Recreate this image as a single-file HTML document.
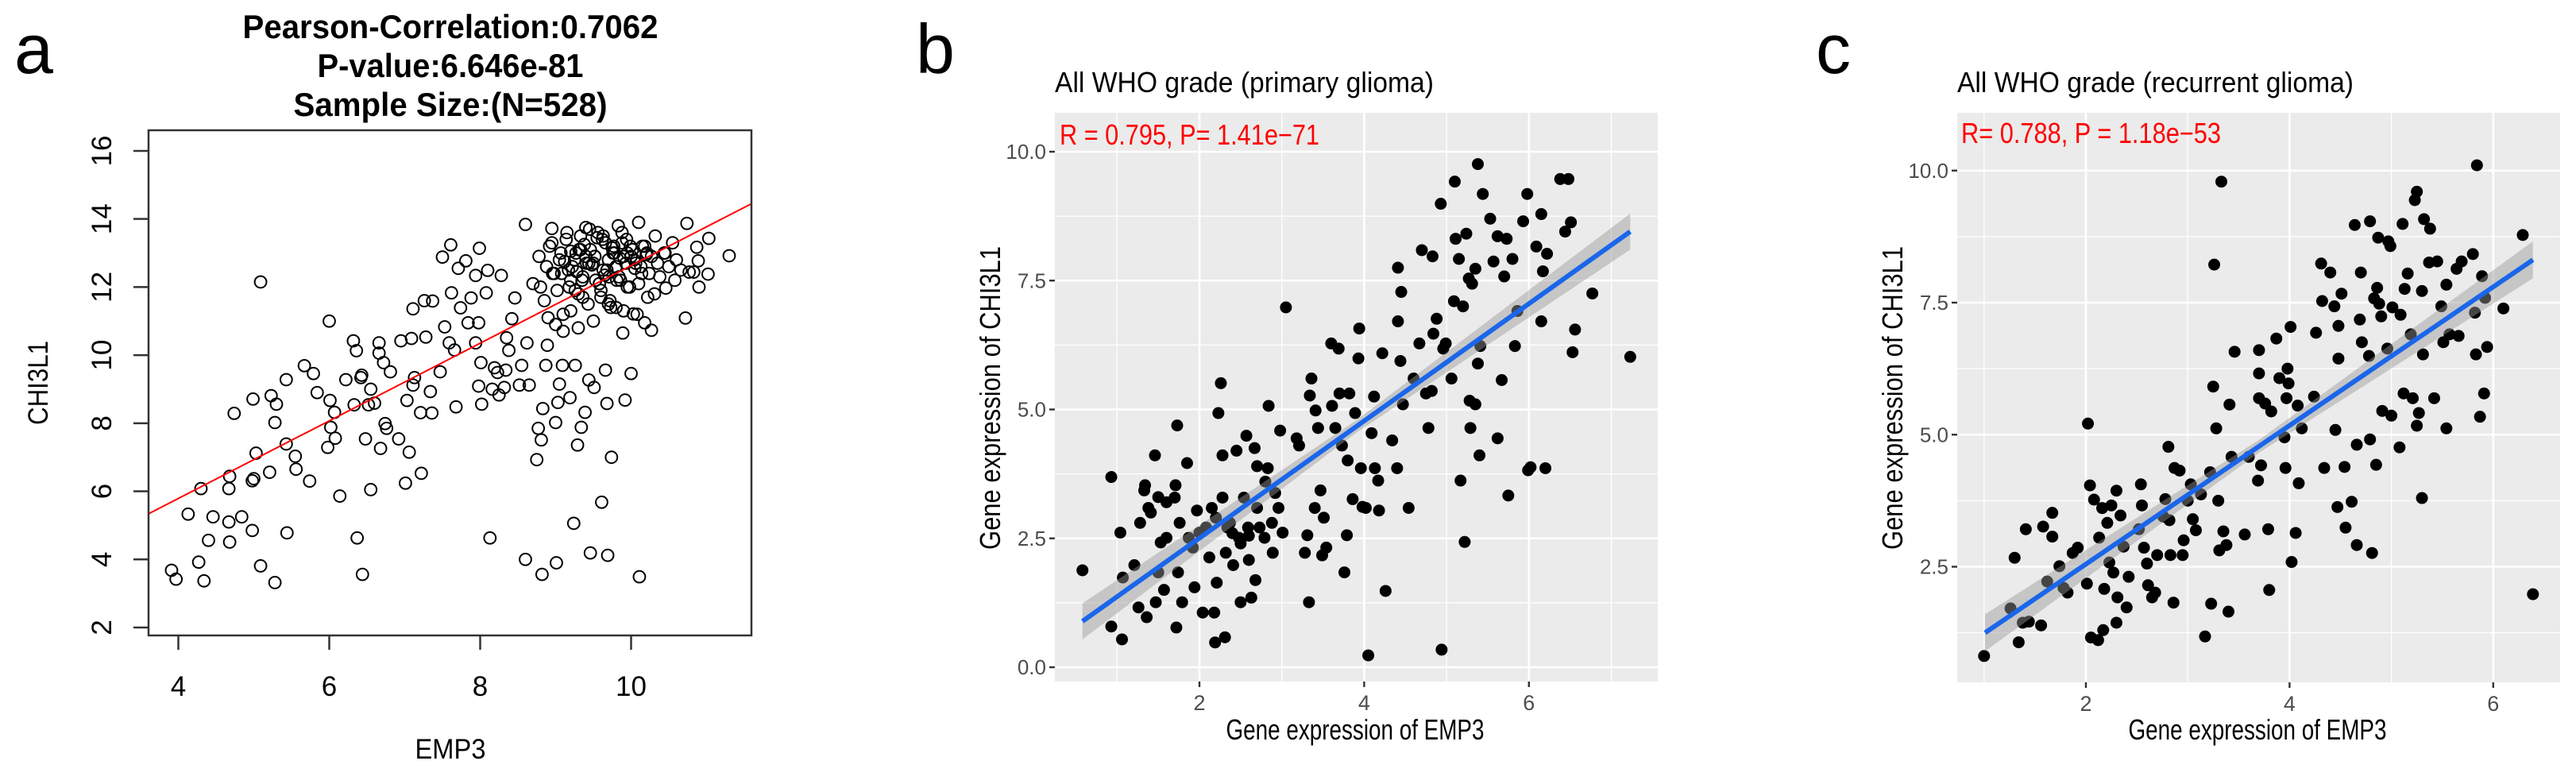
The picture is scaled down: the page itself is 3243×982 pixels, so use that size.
<!DOCTYPE html>
<html><head><meta charset="utf-8">
<style>
html,body{margin:0;padding:0;background:#fff;}
svg{display:block;font-family:"Liberation Sans",Arial,sans-serif;}
</style></head>
<body>
<svg id="fig" width="3243" height="982" viewBox="0 0 3243 982" xmlns="http://www.w3.org/2000/svg">
  <g>
    <text x="18" y="92" font-size="88">a</text>
    <text x="567" y="48" font-size="42" font-weight="bold" text-anchor="middle" textLength="523" lengthAdjust="spacingAndGlyphs">Pearson-Correlation:0.7062</text>
    <text x="567" y="97" font-size="42" font-weight="bold" text-anchor="middle" textLength="335" lengthAdjust="spacingAndGlyphs">P-value:6.646e-81</text>
    <text x="567" y="146" font-size="42" font-weight="bold" text-anchor="middle" textLength="395" lengthAdjust="spacingAndGlyphs">Sample Size:(N=528)</text>
    <text x="567" y="955" font-size="35" text-anchor="middle" textLength="89" lengthAdjust="spacingAndGlyphs">EMP3</text>
    <text transform="translate(60,482) rotate(-90)" font-size="35" text-anchor="middle" textLength="106" lengthAdjust="spacingAndGlyphs">CHI3L1</text>
    <g id="a-layer"></g>
    <rect x="187" y="164" width="759" height="636" fill="none" stroke="#333" stroke-width="2.5"/>
  </g>
  <g>
    <text x="1153" y="92" font-size="88">b</text>
    <text x="1328" y="116" font-size="36" textLength="477" lengthAdjust="spacingAndGlyphs">All WHO grade (primary glioma)</text>
    <rect x="1328" y="142" width="759" height="716" fill="#ebebeb"/>
    <g id="b-layer"></g>
    <text x="1334" y="182" font-size="36" fill="#ff0000" textLength="327" lengthAdjust="spacingAndGlyphs">R = 0.795, P= 1.41e−71</text>
    <text x="1706" y="931" font-size="36" text-anchor="middle" textLength="325" lengthAdjust="spacingAndGlyphs">Gene expression of EMP3</text>
    <text transform="translate(1259,501) rotate(-90)" font-size="36" text-anchor="middle" textLength="382" lengthAdjust="spacingAndGlyphs">Gene expression of CHI3L1</text>
  </g>
  <g>
    <text x="2286" y="92" font-size="88">c</text>
    <text x="2464" y="116" font-size="36" textLength="499" lengthAdjust="spacingAndGlyphs">All WHO grade (recurrent glioma)</text>
    <rect x="2464" y="142" width="759" height="717" fill="#ebebeb"/>
    <g id="c-layer"></g>
    <text x="2469" y="180" font-size="36" fill="#ff0000" textLength="327" lengthAdjust="spacingAndGlyphs">R= 0.788, P = 1.18e−53</text>
    <text x="2842" y="931" font-size="36" text-anchor="middle" textLength="325" lengthAdjust="spacingAndGlyphs">Gene expression of EMP3</text>
    <text transform="translate(2395,501) rotate(-90)" font-size="36" text-anchor="middle" textLength="382" lengthAdjust="spacingAndGlyphs">Gene expression of CHI3L1</text>
  </g>
</svg>
<script>
// ---------- Panel a data ----------
const aX = [3.91,3.97,4.27,4.34,4.30,4.13,4.40,4.46,4.68,4.67,4.67,4.68,4.84,4.98,4.98,5.0,5.03,5.09,5.28,5.21,4.74,4.99,5.09,5.23,5.30,5.28,5.43,5.43,5.44,5.55,5.56,5.74,5.67,5.79,5.84,6.0,6.01,6.07,5.98,6.02,6.08,6.14,6.22,6.32,6.36,6.33,6.37,6.42,6.43,6.44,6.48,6.55,6.55,6.52,6.60,6.66,6.66,6.68,6.72,6.81,6.74,6.76,6.92,6.95,7.01,7.03,7.06,7.09,7.11,7.13,7.11,7.21,7.22,7.26,7.28,7.34,7.36,7.37,7.47,7.50,7.61,7.53,7.59,7.62,7.68,7.66,7.71,7.81,7.74,7.84,7.88,7.94,7.99,7.94,7.98,8.01,8.02,7.98,8.08,8.13,8.10,8.16,8.19,8.23,8.25,8.32,8.28,8.34,8.35,8.38,8.42,8.46,8.52,8.55,8.60,8.60,8.65,8.62,8.75,8.77,8.81,8.83,8.82,8.87,8.89,8.95,9.0,9.01,9.05,9.03,9.09,9.19,9.24,9.29,9.26,9.34,9.39,9.44,9.46,9.51,9.61,9.66,9.68,9.69,9.74,9.92,10.0,10.11,9.89,10.03,10.18,10.27,10.46,10.72,10.90,10.83,11.02,10.89,10.87,11.03,11.30,10.74,10.77,
 8.70,8.78,8.85,8.92,8.98,9.05,9.10,9.14,9.18,9.22,9.27,9.30,9.33,9.36,9.40,9.43,9.46,9.50,9.53,9.56,9.60,9.63,9.66,9.70,9.73,9.76,9.80,9.83,9.86,9.90,9.94,9.98,10.02,10.06,10.10,10.14,10.18,10.22,10.27,10.32,10.38,10.44,10.50,10.55,10.60,10.66,
 8.88,8.95,9.02,9.08,9.15,9.20,9.25,9.31,9.35,9.41,9.45,9.52,9.58,9.62,9.68,9.72,9.78,9.84,9.88,9.95,10.00,10.08,10.15,10.24,10.35,10.45,10.58,
 9.12,9.20,9.28,9.38,9.48,9.55,9.65,9.75,9.85,9.95,10.05,10.2,8.9,9.0,9.1,9.3,9.5,9.7,9.9,10.1,9.6,9.4,9.8,8.8,9.2,
 9.17,9.33,9.52,9.71,9.88,10.04,10.21,9.26,9.44,9.63,9.81,9.99,10.13,10.31,8.96,9.07,9.36,9.58,9.77,9.93];
const aY = [3.68,3.42,3.92,3.37,6.08,5.33,4.56,5.25,4.51,5.10,6.08,6.44,5.25,4.85,6.31,6.37,7.12,3.81,3.32,6.56,8.29,8.71,12.15,8.81,8.56,8.02,9.28,7.39,4.78,7.03,6.65,6.30,9.69,9.46,8.90,11.0,8.67,8.32,7.29,7.88,7.56,5.86,9.28,10.42,10.13,8.54,4.63,9.34,9.41,3.56,7.54,6.05,9.0,8.54,8.59,10.36,10.06,7.26,9.78,9.51,7.99,7.85,7.54,10.42,6.24,8.67,7.15,10.49,9.12,9.34,11.36,8.31,6.53,11.6,10.53,8.93,8.30,11.59,9.51,12.88,13.24,10.83,10.36,11.83,8.48,10.15,12.55,12.77,11.39,10.95,11.68,10.36,13.14,12.34,9.09,9.78,8.56,10.95,11.83,4.63,12.49,9.0,9.63,9.49,8.83,9.05,12.34,9.56,10.51,10.14,11.07,11.68,9.12,9.70,4.0,13.84,9.12,10.36,6.93,7.85,7.51,8.43,3.56,9.70,10.29,13.72,8.02,3.90,9.15,8.61,9.70,8.75,5.06,7.36,9.70,7.88,8.32,9.27,4.19,9.05,5.68,9.56,8.58,4.12,7.0,8.68,9.46,3.49,10.65,11.21,10.95,10.73,11.97,11.09,12.0,12.44,12.38,12.77,13.17,13.43,12.92,13.87,12.44,
 12.1,12.9,11.6,13.2,12.4,12.8,11.2,13.4,12.0,12.6,13.0,11.8,13.5,12.3,12.9,11.5,13.1,12.7,12.2,13.6,11.9,12.5,13.3,12.8,11.4,13.0,12.6,13.8,12.2,12.9,13.4,12.0,13.1,12.7,13.9,12.4,13.2,11.7,12.9,13.5,12.3,13.0,12.6,13.3,12.8,12.5,
 12.6,13.3,11.9,12.4,13.6,11.3,12.8,13.1,12.2,12.7,13.7,12.9,12.1,13.4,12.5,11.6,13.0,12.3,13.6,12.0,12.9,11.2,13.2,12.4,12.7,13.0,12.2,
 12.75,13.05,12.45,13.25,12.65,13.45,12.35,13.15,12.85,13.0,12.55,12.95,11.1,10.9,10.7,10.8,11.0,11.5,11.3,12.1,11.7,13.75,11.4,12.0,12.2,
 12.5,13.1,12.9,12.3,13.3,12.8,13.0,11.9,12.7,13.5,12.2,13.2,12.6,11.8,12.4,13.0,11.7,12.1,13.2,12.7];
const aXTicks = [4,6,8,10];
const aYTicks = [2,4,6,8,10,12,14,16];
const aFit = [1.23, 1.14]; // intercept, slope

// ---------- Panel b data ----------
const bX = [0.58,0.93,0.93,1.04,1.06,1.07,1.21,1.26,1.28,1.33,1.34,1.36,1.38,1.41,1.46,1.47,1.50,1.53,1.57,1.60,1.70,1.71,1.72,1.73,1.74,1.76,1.79,1.85,1.87,1.92,1.94,1.97,2.00,2.04,2.08,2.12,2.15,2.18,2.19,2.21,2.23,2.26,2.28,2.28,2.31,2.32,2.34,2.37,2.41,2.45,2.48,2.50,2.54,2.57,2.59,2.60,2.63,2.67,2.68,2.70,2.73,2.79,2.83,2.84,2.88,2.89,2.92,2.96,2.98,3.01,3.05,3.18,3.21,3.28,3.31,3.33,3.34,3.36,3.40,3.41,3.44,3.47,3.49,3.51,3.54,3.60,3.61,3.65,3.69,3.70,3.73,3.76,3.79,3.80,3.82,3.86,3.89,3.93,3.94,3.96,3.98,4.02,4.05,4.09,4.12,4.13,4.17,4.18,4.22,4.26,4.34,4.40,4.41,4.41,4.44,4.45,4.47,4.54,4.60,4.67,4.70,4.75,4.78,4.82,4.83,4.84,4.88,4.93,4.94,4.96,4.99,5.06,5.09,5.10,5.11,5.15,5.17,5.20,5.22,5.24,5.27,5.28,5.29,5.31,5.35,5.35,5.38,5.38,5.40,5.41,5.44,5.53,5.57,5.62,5.62,5.67,5.70,5.73,5.75,5.80,5.83,5.86,5.93,5.98,5.99,6.02,6.09,6.15,6.15,6.17,6.20,6.22,6.38,6.44,6.48,6.51,6.53,6.56,6.77,7.23,2.4,2.5,2.6,2.2,1.6,1.5,2.7,2.8];
const bY = [1.88,3.69,0.79,2.61,0.54,1.74,1.98,1.16,2.80,3.43,3.53,0.97,3.09,3.00,4.11,1.26,1.84,2.42,1.50,2.51,3.29,3.53,0.77,4.69,1.84,2.80,1.26,3.96,2.51,2.32,1.55,3.04,2.61,1.06,2.71,2.13,3.09,1.06,0.48,1.64,4.93,5.51,3.29,4.11,0.58,2.22,2.71,2.80,1.98,4.20,2.51,1.26,3.29,4.49,2.71,2.08,1.35,4.25,1.69,3.09,2.71,2.51,3.86,5.07,2.80,2.22,3.38,3.09,4.59,2.61,6.98,4.44,4.30,2.22,2.56,1.26,5.27,5.60,3.09,4.98,4.64,3.43,2.17,2.90,2.32,6.28,5.07,4.64,6.18,5.31,4.30,1.84,2.56,4.01,5.31,3.26,4.93,5.99,6.57,3.86,3.11,3.09,0.23,4.54,5.25,3.86,3.62,3.04,6.09,1.48,4.40,3.86,6.71,7.75,5.94,7.28,5.10,3.09,5.60,6.28,8.09,5.31,4.64,5.36,7.97,6.47,6.76,8.99,0.34,6.18,6.28,5.60,7.10,9.42,8.31,7.92,3.62,7.00,2.43,8.41,7.54,5.17,4.64,7.44,7.73,5.10,9.76,5.89,4.11,6.23,9.18,8.70,7.87,8.36,4.44,5.57,7.58,8.31,3.33,7.92,6.23,6.91,8.65,9.18,3.82,3.88,8.16,8.79,6.71,7.68,3.86,8.02,9.47,8.45,9.47,8.63,6.11,6.55,7.25,6.02,2.6,2.4,2.55,2.9,3.2,3.3,3.9,3.6];
const bXTicks = [2,4,6];
const bYTicks = [0,2.5,5,7.5,10];
const bYTickLabels = ["0.0","2.5","5.0","7.5","10.0"];
const bFit = [0.58,0.89,7.23,8.45]; // x0,y0,x1,y1

// ---------- Panel c data ----------
const cX = [1.00,1.26,1.30,1.34,1.38,1.41,1.44,1.56,1.58,1.62,1.67,1.67,1.74,1.78,1.82,1.87,1.92,2.01,2.02,2.04,2.05,2.08,2.12,2.13,2.16,2.17,2.18,2.21,2.23,2.25,2.27,2.30,2.30,2.31,2.34,2.37,2.40,2.42,2.52,2.54,2.55,2.57,2.60,2.61,2.65,2.68,2.70,2.76,2.78,2.81,2.82,2.83,2.86,2.87,2.92,2.95,2.96,3.00,3.03,3.05,3.08,3.13,3.17,3.22,3.23,3.25,3.26,3.28,3.30,3.31,3.33,3.35,3.38,3.40,3.41,3.43,3.46,3.56,3.60,3.69,3.70,3.70,3.70,3.72,3.76,3.79,3.80,3.82,3.87,3.90,3.95,3.96,3.97,3.98,3.99,4.01,4.02,4.06,4.08,4.09,4.12,4.24,4.26,4.31,4.32,4.34,4.40,4.44,4.45,4.47,4.48,4.48,4.51,4.54,4.55,4.61,4.64,4.66,4.66,4.69,4.70,4.71,4.78,4.79,4.79,4.81,4.83,4.85,4.86,4.87,4.88,4.90,4.91,4.96,4.97,4.99,5.00,5.01,5.08,5.09,5.11,5.12,5.13,5.16,5.19,5.21,5.23,5.25,5.25,5.27,5.30,5.30,5.31,5.32,5.38,5.37,5.42,5.45,5.49,5.51,5.54,5.54,5.57,5.64,5.66,5.69,5.80,5.82,5.83,5.84,5.87,5.89,5.91,5.92,5.94,6.10,6.29,6.39];
const cY = [0.81,1.71,2.67,1.07,1.44,3.21,1.46,1.39,3.26,2.22,3.52,3.07,2.51,2.10,2.01,2.76,2.86,2.18,5.21,4.04,1.16,3.77,1.11,3.05,3.61,1.30,2.08,3.33,2.58,3.66,2.39,1.44,3.94,1.92,3.47,2.88,1.73,2.31,3.21,4.06,3.66,2.86,2.56,2.15,1.92,2.01,2.72,3.45,3.78,4.77,3.38,2.72,1.82,4.37,4.32,2.72,3.00,3.75,4.06,3.40,3.19,3.87,1.18,4.29,1.80,5.91,8.22,5.12,3.75,2.81,9.79,3.17,2.91,1.65,5.57,4.58,6.57,3.11,4.58,4.13,6.60,6.16,5.69,4.42,5.59,3.21,2.06,5.44,6.82,6.07,4.95,4.37,5.69,6.25,5.97,7.04,2.59,3.14,5.55,4.08,5.12,5.72,6.93,8.24,7.53,4.37,8.07,7.43,5.09,3.63,6.44,7.06,7.67,4.39,3.24,3.73,8.97,2.91,4.81,7.18,8.07,6.75,6.49,4.91,9.04,2.76,7.58,4.43,7.78,8.73,7.48,7.24,5.45,6.63,8.66,8.57,5.36,7.41,4.76,7.27,8.99,5.78,7.76,8.05,6.90,5.69,9.44,5.17,9.60,5.41,3.80,7.72,6.52,9.08,8.90,8.26,5.69,8.28,7.43,6.75,5.12,7.84,6.90,8.14,6.87,8.28,8.42,7.31,6.52,10.10,5.34,8.00,5.78,7.59,6.66,7.39,8.78,1.98];
const cXTicks = [2,4,6];
const cYTicks = [2.5,5,7.5,10];
const cYTickLabels = ["2.5","5.0","7.5","10.0"];
const cFit = [1.01,1.25,6.39,8.31];

const NS = "http://www.w3.org/2000/svg";
function mk(tag, attrs, parent){
  const e = document.createElementNS(NS, tag);
  for (const k in attrs) e.setAttribute(k, attrs[k]);
  parent.appendChild(e);
  return e;
}

// ---------- Draw panel a ----------
(function(){
  const L = document.getElementById('a-layer');
  const sx = v => 224.5 + (v - 4) * 95.0;
  const sy = v => 790 - (v - 2) * 42.86;
  aXTicks.forEach(t => {
    const tk = mk('line', {x1:sx(t), x2:sx(t), y1:800, y2:818, stroke:'#333', 'stroke-width':2.5}, L);
    
    
    const lb = mk('text', {x:sx(t), y:876, 'font-size':35, 'text-anchor':'middle'}, L);
    lb.textContent = t;
    
    
  });
  aYTicks.forEach(t => {
    const tk = mk('line', {x1:168, x2:187, y1:sy(t), y2:sy(t), stroke:'#333', 'stroke-width':2.5}, L);
    
    
    const lb = mk('text', {transform:`translate(140,${sy(t)}) rotate(-90)`, 'font-size':35, 'text-anchor':'middle'}, L);
    lb.textContent = t;
    
    
  });
  for (let i = 0; i < aX.length; i++){
    const c = mk('circle', {cx:sx(aX[i]), cy:sy(aY[i]), r:7.4, fill:'none', stroke:'#000', 'stroke-width':2}, L);
    
    
  }
  const x0 = 3.6, x1 = 11.59;
  const ln = mk('line', {x1:sx(x0), y1:sy(aFit[0]+aFit[1]*x0), x2:sx(x1), y2:sy(aFit[0]+aFit[1]*x1), stroke:'#ff0000', 'stroke-width':2}, L);
  
  
})();

// ---------- ggplot-style panels ----------
function ggPanel(layerId, prefix, X, Y, xTicks, yTicks, yLabels, fit, box, sx, sy, xMinor, yMinor){
  const L = document.getElementById(layerId);
  xMinor.forEach(t => {
    const g = mk('line', {x1:sx(t), x2:sx(t), y1:box.t, y2:box.b, stroke:'#fff', 'stroke-width':1.3}, L);
    
    
  });
  yMinor.forEach(t => {
    const g = mk('line', {x1:box.l, x2:box.r, y1:sy(t), y2:sy(t), stroke:'#fff', 'stroke-width':1.3}, L);
    
    
  });
  xTicks.forEach(t => {
    const g = mk('line', {x1:sx(t), x2:sx(t), y1:box.t, y2:box.b, stroke:'#fff', 'stroke-width':2.6}, L);
    
    
    const tk = mk('line', {x1:sx(t), x2:sx(t), y1:box.b, y2:box.b+7, stroke:'#333', 'stroke-width':2.4}, L);
    
    
    const lb = mk('text', {x:sx(t), y:box.b+36, 'font-size':27, fill:'#4d4d4d', 'text-anchor':'middle'}, L);
    lb.textContent = t;
    
    
  });
  yTicks.forEach((t, i) => {
    const g = mk('line', {x1:box.l, x2:box.r, y1:sy(t), y2:sy(t), stroke:'#fff', 'stroke-width':2.6}, L);
    
    
    const tk = mk('line', {x1:box.l-7, x2:box.l, y1:sy(t), y2:sy(t), stroke:'#333', 'stroke-width':2.4}, L);
    
    
    const lb = mk('text', {x:box.l-11, y:sy(t)+9, 'font-size':26, fill:'#4d4d4d', 'text-anchor':'end'}, L);
    lb.textContent = yLabels[i];
    
    
  });
  for (let i = 0; i < X.length; i++){
    const c = mk('circle', {cx:sx(X[i]), cy:sy(Y[i]), r:7.5, fill:'#000'}, L);
    
    
  }
  const w = 0.35, wm = 0.12, xm = (fit[0]+fit[2])/2, ym = (fit[1]+fit[3])/2;
  const rib = mk('path', {d:`M${sx(fit[0])},${sy(fit[1]+w)} L${sx(xm)},${sy(ym+wm)} L${sx(fit[2])},${sy(fit[3]+w)} L${sx(fit[2])},${sy(fit[3]-w)} L${sx(xm)},${sy(ym-wm)} L${sx(fit[0])},${sy(fit[1]-w)} Z`, fill:'#999', 'fill-opacity':0.45}, L);
  
  
  const ln = mk('line', {x1:sx(fit[0]), y1:sy(fit[1]), x2:sx(fit[2]), y2:sy(fit[3]), stroke:'#1a66ea', 'stroke-width':6}, L);
  
  
}

ggPanel('b-layer', 'panel-b', bX, bY, bXTicks, bYTicks, bYTickLabels, bFit,
  {l:1328, r:2087, t:142, b:858},
  v => 1510 + (v - 2) * 103.7,
  v => 840 - v * 64.9,
  [1,3,5,7], [1.25,3.75,6.25,8.75]);

ggPanel('c-layer', 'panel-c', cX, cY, cXTicks, cYTicks, cYTickLabels, cFit,
  {l:2464, r:3223, t:142, b:859},
  v => 2626 + (v - 2) * 128.2,
  v => 713.5 - (v - 2.5) * 66.5,
  [1,3,5], [1.25,3.75,6.25,8.75]);
</script>
</body></html>
